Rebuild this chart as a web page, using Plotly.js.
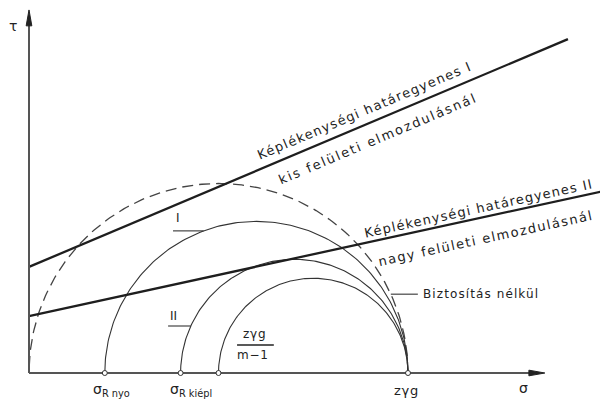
<!DOCTYPE html>
<html>
<head>
<meta charset="utf-8">
<script src="https://cdn.plot.ly/plotly-3.0.1.min.js"></script>
<style>
html,body{margin:0;padding:0;background:#fff;}
#chart{width:600px;height:403px;}
</style>
</head>
<body>
<div id="chart"></div>
<script>
// ---- data (σ, τ in the same units; zγg = 100) ----
const circleNames   = ['dashed', 'I', 'II', 'zγg/(m−1)'];
const circleSigma3  = [0, 20, 40, 50];      // left end of each Mohr circle
const circleSigma1  = [100, 100, 100, 100]; // right end (zγg)
const circleDashed  = [true, false, false, false];

const lineNames     = ['Képlékenységi határegyenes I', 'Képlékenységi határegyenes II'];
const lineCohesion  = [28, 15];        // τ at σ = 0
const lineSlope     = [0.4226, 0.2177];// tan φ
const lineEndSigma  = [142.2, 152];

const axisPoints    = [20, 40, 50, 100];
const axisTickText  = ['σ<sub>R nyo</sub>', 'σ<sub>R kiépl</sub>', '', 'zγg'];
const axisEnds      = {sigma: 136.1, tau: 95.8};

const ink = '#1e1e1e';
const traces = [];
const annotations = [];

// Mohr semicircles
circleSigma3.forEach((s3, i) => {
  const c = (s3 + circleSigma1[i]) / 2, r = (circleSigma1[i] - s3) / 2;
  const xs = [], ys = [];
  for (let k = 0; k <= 180; k++) {
    const t = Math.PI * k / 180;
    xs.push(c + r * Math.cos(t)); ys.push(r * Math.sin(t));
  }
  traces.push({x: xs, y: ys, mode: 'lines', name: circleNames[i], hoverinfo: 'skip',
    line: {color: circleDashed[i] ? '#444' : '#333', width: circleDashed[i] ? 1.3 : 1.1,
           dash: circleDashed[i] ? '11px,6px' : 'solid'}});
});
function circleAt(i, tau, side) {
  const c = (circleSigma3[i] + circleSigma1[i]) / 2, r = (circleSigma1[i] - circleSigma3[i]) / 2;
  return c + side * Math.sqrt(r * r - tau * tau);
}

// failure envelopes
lineCohesion.forEach((c, i) => {
  traces.push({x: [0, lineEndSigma[i]], y: [c, c + lineSlope[i] * lineEndSigma[i]],
    mode: 'lines', name: lineNames[i], hoverinfo: 'skip', line: {color: ink, width: 2.3}});
});

// axes with arrowheads
traces.push({x: [0, 0], y: [0, axisEnds.tau - 3], mode: 'lines', hoverinfo: 'skip', line: {color: '#555', width: 2}});
traces.push({x: [0, axisEnds.sigma - 3], y: [0, 0], mode: 'lines', hoverinfo: 'skip', line: {color: '#555', width: 2}});
const hl = 4.2, hw = 0.75;
traces.push({x: [-hw, 0, hw, -hw], y: [axisEnds.tau - hl, axisEnds.tau, axisEnds.tau - hl, axisEnds.tau - hl],
  mode: 'lines', fill: 'toself', fillcolor: '#222', hoverinfo: 'skip', line: {color: '#222', width: 1}});
traces.push({x: [axisEnds.sigma - hl, axisEnds.sigma, axisEnds.sigma - hl, axisEnds.sigma - hl], y: [-hw, 0, hw, -hw],
  mode: 'lines', fill: 'toself', fillcolor: '#222', hoverinfo: 'skip', line: {color: '#222', width: 1}});

// points on σ axis
traces.push({x: axisPoints, y: axisPoints.map(() => 0), mode: 'markers', hoverinfo: 'skip',
  marker: {size: 5, color: '#fff', line: {color: '#333', width: 1}}});

// leader lines
const tauI = 37.5, tauII = 12.4, tauB = 20.8;
traces.push({x: [38, circleAt(1, tauI, -1)], y: [tauI, tauI], mode: 'lines', hoverinfo: 'skip', line: {color: '#333', width: 1.1}});
traces.push({x: [36.7, circleAt(2, tauII, -1)], y: [tauII, tauII], mode: 'lines', hoverinfo: 'skip', line: {color: '#333', width: 1.1}});
traces.push({x: [circleAt(0, tauB, 1), 102.6], y: [tauB, tauB], mode: 'lines', hoverinfo: 'skip', line: {color: '#333', width: 1.1}});
// fraction bar
traces.push({x: [54.9, 64.6], y: [7.4, 7.4], mode: 'lines', hoverinfo: 'skip', line: {color: '#222', width: 1.6}});

const fam = 'DejaVu Sans, sans-serif';
function txt(x, y, text, size, extra) {
  annotations.push(Object.assign({x, y, xref: 'x', yref: 'y', text, showarrow: false,
    font: {family: fam, size, color: '#222'}}, extra || {}));
}
function sp(t, px) { return '<span style="letter-spacing:' + px + 'px">' + t + '</span>'; }
const ang1 = -Math.atan(lineSlope[0]) * 180 / Math.PI;
const ang2 = -Math.atan(lineSlope[1]) * 180 / Math.PI;
txt(88.6, 69.2, sp('Képlékenységi határegyenes I', 1.3), 13, {textangle: ang1});
txt(92.2, 61.8, sp('kis felületi elmozdulásnál', 1.9), 13, {textangle: ang1});
txt(118.6, 43.4, sp('Képlékenységi határegyenes II', 1.2), 13, {textangle: ang2});
txt(120.4, 35.6, sp('nagy felületi elmozdulásnál', 1.5), 13, {textangle: ang2});
txt(39.3, 40.9, 'I', 12);
txt(38.0, 15.0, 'II', 12);
txt(59.4, 10.3, sp('zγg', 0.8), 12);
txt(59.2, 4.7, sp('m−1', 0.8), 12);
txt(103.3, tauB, sp('Biztosítás nélkül', 1.1), 12, {xanchor: 'left'});
txt(-4.2, 91.5, 'τ', 14);
txt(130.6, -4.0, 'σ', 14);
txt(16.4, -4.6, axisTickText[0], 14, {xanchor: 'left'});
txt(36.6, -4.6, axisTickText[1], 14, {xanchor: 'left'});
txt(99.5, -4.5, sp(axisTickText[3], 0.8), 13);

const layout = {
  width: 600, height: 403,
  margin: {l: 0, r: 0, t: 0, b: 0},
  paper_bgcolor: '#fff', plot_bgcolor: '#fff',
  showlegend: false,
  xaxis: {range: [-7.652, 150.66], visible: false, fixedrange: true},
  yaxis: {range: [-7.916, 98.42], visible: false, fixedrange: true},
  annotations
};
Plotly.newPlot('chart', traces, layout, {staticPlot: true, displayModeBar: false});
</script>
</body>
</html>
